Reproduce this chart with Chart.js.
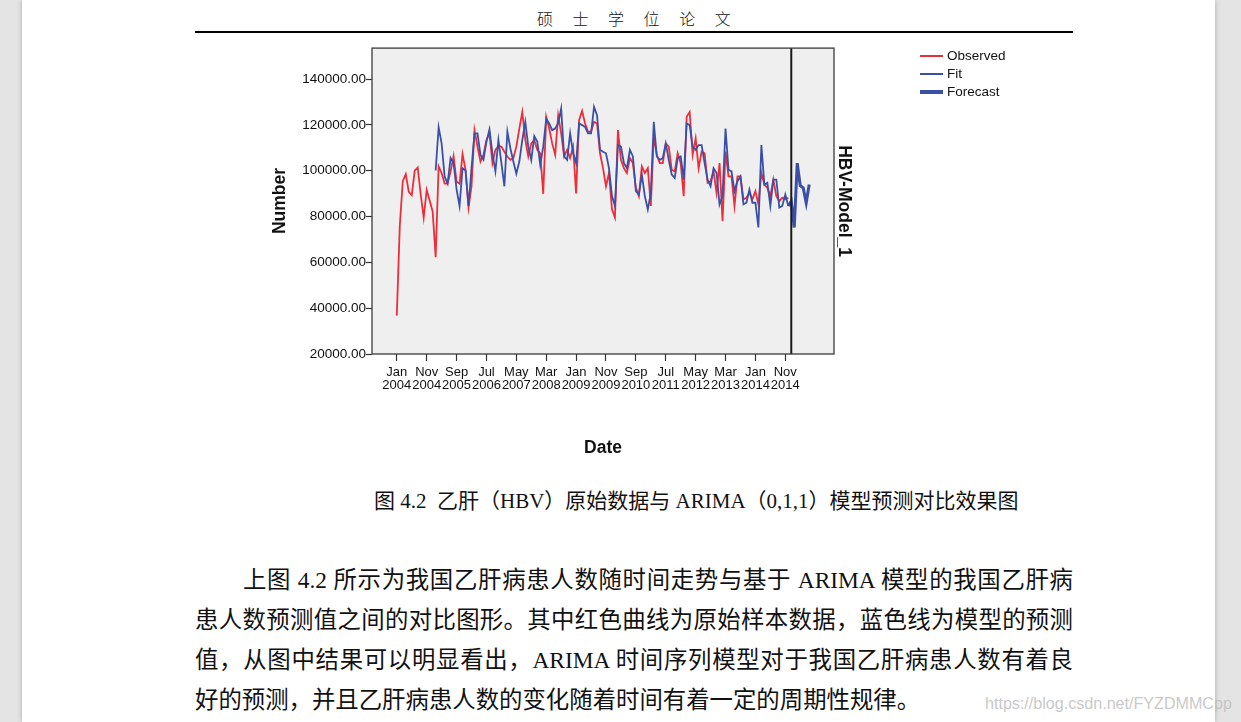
<!DOCTYPE html>
<html>
<head>
<meta charset="utf-8">
<script src="https://cdn.jsdelivr.net/npm/chart.js@4.4.0/dist/chart.umd.min.js"></script>
<style>
  html, body { margin: 0; padding: 0; }
  body { width: 1241px; height: 722px; background: #e4e4e4; overflow: hidden; position: relative;
         font-family: "Liberation Serif", "Noto Sans CJK SC", serif; color: #111; }
  .page { position: absolute; left: 22px; top: 0; width: 1193px; height: 722px; background: #fff;
          box-shadow: 0 0 5px rgba(0,0,0,0.25); }
  .abs { position: absolute; white-space: nowrap; }
  #hdr { left: 537px; top: 8px; font-size: 16px; line-height: 20px; letter-spacing: 8px; font-family: "Noto Sans CJK SC", serif; font-weight: 300; }
  #hdrLine { left: 195px; top: 31px; width: 878px; height: 1.5px; background: #000; }
  #chartBox { position: absolute; left: 195px; top: 40px; }
  #legend { left: 920px; top: 47px; font-family: "Liberation Sans", Arial, sans-serif; font-size: 13.5px; color: #111; }
  #legend .row { height: 18px; line-height: 18px; display: flex; align-items: center; }
  #legend .sw { width: 23px; margin-right: 4px; }
  #caption { left: 374px; top: 486px; font-size: 21px; line-height: 30px; }
  .body { position: absolute; font-size: 23.4px; line-height: 40px; height: 40px; white-space: nowrap; }
  .just { text-align: justify; text-align-last: justify; white-space: normal; overflow: hidden; }
  #wm { left: 985px; top: 694px; font-family: "Liberation Sans", Arial, sans-serif; font-size: 16.1px; color: rgba(190,190,190,0.85); }
</style>
</head>
<body>
<div class="page"></div>
<div class="abs" id="hdr">硕 士 学 位 论 文</div>
<div class="abs" id="hdrLine"></div>
<div id="chartBox"><canvas id="hbv" width="880" height="420"></canvas></div>
<div class="abs" id="legend">
  <div class="row"><span class="sw" id="swObs"></span>Observed</div>
  <div class="row"><span class="sw" id="swFit"></span>Fit</div>
  <div class="row"><span class="sw" id="swFc"></span>Forecast</div>
</div>
<div class="abs" id="caption">图 4.2&nbsp; 乙肝（HBV）原始数据与 ARIMA（0,1,1）模型预测对比效果图</div>
<div class="body just" style="left:243px;top:560px;width:830px;">上图 4.2 所示为我国乙肝病患人数随时间走势与基于 ARIMA 模型的我国乙肝病</div>
<div class="body just" style="left:195px;top:600px;width:878px;">患人数预测值之间的对比图形。其中红色曲线为原始样本数据，蓝色线为模型的预测</div>
<div class="body just" style="left:195px;top:640px;width:878px;">值，从图中结果可以明显看出，ARIMA 时间序列模型对于我国乙肝病患人数有着良</div>
<div class="body" style="left:195px;top:680px;">好的预测，并且乙肝病患人数的变化随着时间有着一定的周期性规律。</div>
<div class="abs" id="wm">https://blog.csdn.net/FYZDMMCpp</div>

<script>
// month index 0 = Jan 2004
var OBSERVED = [
  36800, 76000, 95400, 98500, 90800, 89300, 100000, 101400, 89600, 79500, 91600, 87000,
  82100, 62300, 101900, 99000, 94400, 94400, 99700, 106300, 95200, 94300, 107300, 100400,
  83900, 93100, 117700, 110500, 104000, 106900, 113400, 116300, 103300, 109100, 110800, 110500,
  108300, 106200, 104700, 105500, 110500, 118400, 125600, 113400, 106200, 111900, 113400, 109100,
  107600, 89900, 123500, 118400, 111900, 106900, 124200, 116300, 106200, 109100, 105500, 110500,
  90100, 122000, 126100, 120600, 117000, 117000, 121300, 120600, 107600, 101100, 93200, 99000,
  83100, 79500, 117700, 104700, 101100, 99000, 105500, 103300, 92500, 88900, 101900, 99000,
  101100, 84600, 115000, 106900, 103300, 103300, 111900, 110500, 100400, 99700, 107600, 103300,
  88900, 123500, 125600, 106900, 114100, 101100, 108300, 107600, 94700, 95400, 99700, 90300,
  103300, 78100, 108300, 97500, 97500, 84600, 97500, 97500, 87500, 88200, 90300, 87500,
  91100, 85300, 99000, 93900, 92500, 88900, 96100, 88900, 86700, 88200, 87500, 88200
];
var FIT_START = 13;
var FIT = [
  100100, 118900, 111900, 97500, 94400, 105500, 103300, 91800, 84600, 101100, 100100,
  84600, 101100, 116300, 116300, 106900, 104800, 112700, 118000, 107600, 99700, 113400, 103300,
  93200, 117000, 109800, 104000, 98700, 104000, 113400, 121300, 110500, 104700, 115100, 112700,
  102600, 110500, 122700, 120600, 117700, 118400, 120600, 127100, 106200, 104700, 116300, 107600,
  103300, 120600, 119900, 119100, 116300, 116300, 127800, 124200, 109100, 108300, 107600, 101100,
  88900, 84600, 111200, 110500, 103300, 101100, 109100, 106200, 91100, 89600, 98300, 88900,
  83100, 90300, 121300, 106200, 104700, 105500, 111900, 104700, 98300, 96800, 105500, 106200,
  96100, 120600, 119900, 110500, 109100, 111200, 111200, 103300, 96100, 93200, 101100, 99000,
  85300, 88900, 118400, 100400, 99700, 91100, 95400, 97500, 85300, 86000, 91800, 86000,
  86000, 75200, 111200, 93900, 94700, 84600, 96100, 96100, 83900, 84600, 89600, 84600
];
var FORECAST_START = 131;
var FORECAST = [84600, 86700, 75200, 103300, 93500, 92500, 86000, 94000];
var FORECAST_LINE_AT = 132;

var TICK_MONTHS = [0, 10, 20, 30, 40, 50, 60, 70, 80, 90, 100, 110, 120, 130];
var TICK_NAMES = ['Jan','Nov','Sep','Jul','May','Mar','Jan','Nov','Sep','Jul','May','Mar','Jan','Nov'];
var TICK_YEARS = ['2004','2004','2005','2006','2007','2008','2009','2009','2010','2011','2012','2013','2014','2014'];
var Y_TICKS = [20000, 40000, 60000, 80000, 100000, 120000, 140000];

var RED = '#ee2d3a', BLUE = '#3a50a8', FONT = "'Liberation Sans', Arial, sans-serif";

function pts(arr, start){ return arr.map(function(v, i){ return { x: start + i, y: v }; }); }

document.getElementById('swObs').style.cssText = 'height:2px;background:' + RED;
document.getElementById('swFit').style.cssText = 'height:1.5px;background:' + BLUE;
document.getElementById('swFc').style.cssText = 'height:3.5px;background:' + BLUE;

var framePlugin = {
  id: 'frame',
  beforeDraw: function(chart){
    var a = chart.chartArea, ctx = chart.ctx;
    ctx.save(); ctx.fillStyle = '#efefef'; ctx.fillRect(a.left, a.top, a.right - a.left, a.bottom - a.top); ctx.restore();
  },
  afterDraw: function(chart){
    var a = chart.chartArea, ctx = chart.ctx;
    var x = chart.scales.x.getPixelForValue(FORECAST_LINE_AT);
    ctx.save();
    ctx.strokeStyle = '#1a1a1a'; ctx.lineWidth = 2;
    ctx.beginPath(); ctx.moveTo(x, a.top); ctx.lineTo(x, a.bottom); ctx.stroke();
    ctx.strokeStyle = '#3a3a3a'; ctx.lineWidth = 1.3;
    ctx.strokeRect(a.left, a.top, a.right - a.left, a.bottom - a.top);
    ctx.translate(a.right + 10, (a.top + a.bottom) / 2);
    ctx.rotate(Math.PI / 2);
    ctx.fillStyle = '#111'; ctx.font = 'bold 17.5px ' + FONT;
    ctx.textAlign = 'center'; ctx.textBaseline = 'middle';
    ctx.fillText('HBV-Model_1', 0, 0);
    ctx.restore();
  }
};

new Chart(document.getElementById('hbv'), {
  type: 'line',
  data: {
    datasets: [
      { label: 'Observed', data: pts(OBSERVED, 0), borderColor: RED, borderWidth: 1.8, order: 3 },
      { label: 'Fit', data: pts(FIT, FIT_START), borderColor: BLUE, borderWidth: 1.8, order: 2 },
      { label: 'Forecast', data: pts(FORECAST, FORECAST_START), borderColor: BLUE, borderWidth: 3, order: 1 }
    ]
  },
  options: {
    responsive: false, animation: false, devicePixelRatio: 1,
    layout: { padding: { top: 4, right: 241, left: 0, bottom: 0 } },
    elements: { point: { radius: 0 }, line: { tension: 0, fill: false } },
    plugins: { legend: { display: false }, tooltip: { enabled: false } },
    scales: {
      x: {
        type: 'linear', min: -8.3, max: 146.3,
        afterFit: function(s){ s.height = 106; },
        afterBuildTicks: function(s){ s.ticks = TICK_MONTHS.map(function(v){ return { value: v }; }); },
        grid: { drawOnChartArea: false, tickLength: 7, color: '#333', tickWidth: 1.2 },
        border: { display: false },
        ticks: {
          autoSkip: false, maxRotation: 0, padding: 5, color: '#111',
          font: { family: FONT, size: 13, lineHeight: 1 },
          callback: function(v){ var i = TICK_MONTHS.indexOf(v); return i < 0 ? '' : [TICK_NAMES[i], TICK_YEARS[i]]; }
        },
        title: { display: true, text: 'Date', color: '#111', font: { family: FONT, size: 17.5, weight: 'bold' }, padding: { top: 0, bottom: 1 } }
      },
      y: {
        min: 20000, max: 153500,
        afterFit: function(s){ s.width = 177; },
        afterBuildTicks: function(s){ s.ticks = Y_TICKS.map(function(v){ return { value: v }; }); },
        grid: { drawOnChartArea: false, tickLength: 6, color: '#333', tickWidth: 1.2 },
        border: { display: false },
        ticks: { padding: 0, color: '#111', font: { family: FONT, size: 13.5 },
          callback: function(v){ return Number(v).toFixed(2); } },
        title: { display: true, text: 'Number', color: '#111', font: { family: FONT, size: 17.5, weight: 'bold' }, padding: { top: 74.5, bottom: 0 } }
      }
    }
  },
  plugins: [framePlugin]
});
</script>
</body>
</html>
